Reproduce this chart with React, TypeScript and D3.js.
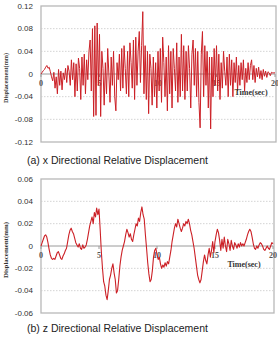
import React from "react";
import * as d3 from "d3";

// time step of the sampled records (sec)
const step = 0.1;

// x-direction relative displacement (mm), one value every 0.1 s from 0 to 20 s
const xDisp = [
  0, 0.003, 0.006, 0.008, 0.012, 0.015, 0.01, 0.012, 0.004, -0.005,
  -0.012, 0.003, -0.025, -0.005, -0.035, 0.008, -0.02, 0.005, -0.028, 0.002,
  -0.01, 0.01, -0.015, 0.015, 0.005, -0.02, 0.025, -0.01, 0.02, -0.04,
  0.018, -0.03, 0.028, 0.01, -0.045, 0.03, -0.02, 0.035, -0.035, 0.025,
  -0.01, 0.04, 0.06, -0.03, 0.08, -0.075, 0.085, -0.073, 0.09, -0.02,
  0.07, -0.075, 0.04, 0.01, -0.055, 0.02, -0.035, 0.045, 0.0, -0.05,
  0.03, -0.02, 0.04, -0.04, -0.065, 0.02, -0.01, 0.035, -0.03, 0.045,
  -0.025, 0.05, 0.01, -0.035, 0.04, -0.04, 0.055, 0.02, -0.025, 0.06,
  -0.045, 0.065, -0.02, 0.04, 0.075, -0.015, 0.05, 0.11, -0.035, 0.05,
  -0.045, 0.04, -0.07, 0.035, 0.01, -0.055, 0.03, -0.04, 0.02, -0.06,
  0.04, -0.03, 0.045, -0.05, 0.065, 0.02, -0.04, 0.03, -0.065, 0.05,
  -0.035, 0.04, -0.06, 0.045, 0.01, -0.03, 0.055, -0.05, 0.03, -0.04,
  0.07, -0.03, 0.05, -0.045, 0.04, -0.03, 0.05, 0.01, -0.06, 0.035,
  0.06, -0.02, 0.045, -0.04, 0.04, -0.05, -0.095, 0.035, 0.075, -0.04,
  0.05, -0.02, 0.04, -0.06, 0.03, -0.097, 0.03, -0.04, 0.045, -0.02,
  0.05, -0.03, 0.035, -0.045, 0.02, -0.025, 0.04, 0.005, -0.02, 0.03,
  -0.04, 0.035, -0.02, 0.025, -0.04, 0.02, -0.015, 0.03, -0.03, 0.015,
  -0.02, 0.02, -0.01, 0.025, -0.03, 0.01, -0.015, 0.02, -0.01, 0.015,
  0.025, -0.01, 0.015, -0.015, 0.01, -0.005, 0.012, -0.008, 0.006, -0.01,
  0.008, -0.004, 0.005, -0.006, 0.004, 0.002, -0.003, 0.003, 0.002, 0.002,
  0.002,
];

// z-direction relative displacement (mm), one value every 0.1 s from 0 to 20 s
const zDisp = [
  0, 0.003, 0.006, 0.009, 0.01, 0.008, 0.003, -0.003, -0.008, -0.011,
  -0.012, -0.011, -0.012, -0.009, -0.006, -0.005, -0.008, -0.011, -0.012, -0.009,
  -0.007, -0.004, -0.002, 0.004, 0.01, 0.014, 0.016, 0.013, 0.011, 0.007,
  0.003, 0.001, -0.001, 0.002, -0.002, -0.003, 0.001, -0.002, -0.001, 0.001,
  0.006, 0.012, 0.018, 0.022, 0.026, 0.02, 0.03, 0.026, 0.034, 0.028,
  0.033, 0.015, -0.005, -0.02, -0.032, -0.036, -0.044, -0.048, -0.04, -0.03,
  -0.026, -0.02, -0.016, -0.024, -0.03, -0.042, -0.04, -0.03, -0.018, -0.01,
  -0.004, 0, 0.004, 0.01, 0.015, 0.012, 0.008, 0.011, 0.006, 0.004,
  0.01, 0.015, 0.02, 0.018, 0.025, 0.022, 0.03, 0.035, 0.028, 0.024,
  0.01, -0.002, -0.015, -0.025, -0.032, -0.03, -0.022, -0.01, -0.004, -0.002,
  -0.008, -0.012, -0.01, -0.016, -0.02, -0.017, -0.019, -0.015, -0.018, -0.014,
  -0.016, -0.01, -0.004, 0.004, 0.01, 0.016, 0.02, 0.017, 0.024, 0.02,
  0.016, 0.013, 0.016, 0.02, 0.018, 0.022, 0.02, 0.024, 0.02, 0.014,
  0.01, 0.004, -0.002, -0.01, -0.018, -0.026, -0.03, -0.033, -0.03, -0.022,
  -0.014, -0.008, -0.013, -0.016, -0.008, -0.002, -0.01, -0.004, 0.004, -0.006,
  0.004, 0.01, 0.015, 0.012, 0.005, -0.004, 0.006, -0.002, 0.008, 0,
  -0.005, 0.006, 0.002, -0.004, 0.005, 0, -0.003, 0.003, 0.001, -0.002,
  0.002, -0.001, 0.003, 0, 0.002, 0, 0.003, 0.006, 0.01, 0.013,
  0.015, 0.013, 0.008, 0.002, -0.002, -0.003, 0, -0.002, 0.001, 0.003,
  0.002, 0, -0.003, -0.004, -0.002, 0, -0.002, -0.003, 0, 0.003,
  0.002,
];

const xTicks = [0, 5, 10, 15, 20];
const yTicksA = [-0.12, -0.08, -0.04, 0, 0.04, 0.08, 0.12];
const yTicksB = [-0.06, -0.04, -0.02, 0, 0.02, 0.04, 0.06];

const lineColor = "#cc2026";
const serif = "'Liberation Serif', 'DejaVu Serif', serif";
const sans = "'Liberation Sans', Arial, sans-serif";

interface PanelProps {
  values: number[];
  yTicks: number[];
  yMax: number;
  left: number;
  right: number;
  top: number;
  bottom: number;
  timeX: number;
  titleLen: number;
  caption: string;
  captionY: number;
  lineWidth: number;
}

const fmt = (v: number) => (v === 0 ? "0" : v.toFixed(2));

const Panel = ({ values, yTicks, yMax, left, right, top, bottom, timeX, titleLen, caption, captionY, lineWidth }: PanelProps) => {
  const xScale = d3.scaleLinear().domain([0, 20]).range([left, right]);
  const yScale = d3.scaleLinear().domain([-yMax, yMax]).range([bottom, top]);
  const y0 = yScale(0);

  const path = d3
    .line<number>()
    .x((_, i) => xScale(i * step))
    .y((d) => yScale(d))(values);

  return (
    <g>
      <rect x={left} y={top} width={right - left + 1} height={bottom - top} fill="none" stroke="#b8b8b8" strokeWidth={1.3} />
      {yTicks.filter((t) => t !== 0 && Math.abs(t) !== yMax).map((t) => (
        <line key={t} x1={left} x2={right} y1={yScale(t)} y2={yScale(t)} stroke="#c8c8c8" strokeWidth={0.8} strokeDasharray="1.5,1.5" />
      ))}
      <line x1={left} x2={right} y1={y0} y2={y0} stroke="#9a9a9a" strokeWidth={1} />
      {yTicks.map((t) => (
        <text key={t} x={33} y={yScale(t)} dy="0.35em" textAnchor="end" fontSize={8} fontFamily={sans} fill="#333">
          {fmt(t)}
        </text>
      ))}
      {xTicks.map((t) => (
        <g key={t}>
          <line x1={xScale(t)} x2={xScale(t)} y1={y0} y2={y0 + 3} stroke="#9a9a9a" />
          <text x={xScale(t)} y={y0 + 12} textAnchor="middle" fontSize={8} fontWeight="bold" fontFamily={serif} fill="#555">
            {t}
          </text>
        </g>
      ))}
      <path d={path ?? ""} fill="none" stroke={lineColor} strokeWidth={lineWidth} strokeLinejoin="round" />
      <text x={timeX} y={y0 + 21} textAnchor="middle" fontSize={8} fontWeight="bold" fontFamily={serif} fill="#333">
        Time(sec)
      </text>
      <text
        transform={`translate(8,${(top + bottom) / 2 + 4}) rotate(-90)`}
        textAnchor="middle"
        fontSize={7}
        fontWeight="bold"
        fontFamily={serif}
        fill="#333"
        textLength={titleLen}
        lengthAdjust="spacingAndGlyphs"
      >
        Displacement(mm)
      </text>
      <text x={27} y={captionY} fontSize={10.5} fontFamily={sans} fill="#222">
        {caption}
      </text>
    </g>
  );
};

export default function App() {
  return (
    <svg width={278} height={337} style={{ position: "absolute", left: 0, top: 0, background: "#fff" }}>
      <Panel
        values={xDisp}
        yTicks={yTicksA}
        yMax={0.12}
        left={41}
        right={275}
        top={6}
        bottom={142}
        timeX={251}
        titleLen={50}
        caption="(a) x Directional Relative Displacement"
        captionY={164}
        lineWidth={1}
      />
      <Panel
        values={zDisp}
        yTicks={yTicksB}
        yMax={0.06}
        left={41}
        right={273}
        top={179}
        bottom={313}
        timeX={244}
        titleLen={56}
        caption="(b) z Directional Relative Displacement"
        captionY={332}
        lineWidth={1.1}
      />
    </svg>
  );
}
